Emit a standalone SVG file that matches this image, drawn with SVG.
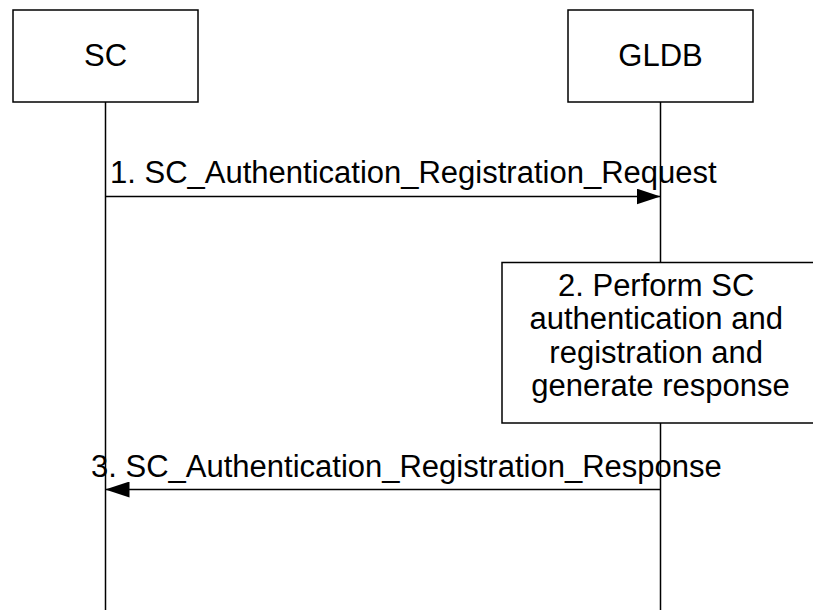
<svg xmlns="http://www.w3.org/2000/svg" width="813" height="610" viewBox="0 0 813 610">
<style>
.box{fill:#fff;stroke:#000;stroke-width:1.5}
.life{stroke:#000;stroke-width:1.5;fill:none}
.msg{stroke:#000;stroke-width:1.5;fill:none}
text{font-family:"Liberation Sans",Arial,sans-serif;font-size:31px;fill:#000}
</style>
<defs>
<marker id="ah" markerWidth="24" markerHeight="16" refX="24" refY="8" orient="auto" markerUnits="userSpaceOnUse">
<path d="M0,0 L24,8 L0,16 Z" fill="#000"/>
</marker>
</defs>
<g id="lifelines">
<line class="life" x1="105.5" y1="102" x2="105.5" y2="610"/>
<line class="life" x1="660.5" y1="102" x2="660.5" y2="610"/>
</g>
<g id="SC">
<rect class="box" x="13" y="10" width="185" height="92"/>
<text x="105.5" y="66" text-anchor="middle">SC</text>
</g>
<g id="GLDB">
<rect class="box" x="568" y="10" width="185" height="92"/>
<text x="660.5" y="66" text-anchor="middle">GLDB</text>
</g>
<g id="step2">
<rect class="box" x="502" y="262.5" width="318" height="160.5"/>
<text text-anchor="middle">
<tspan x="660.5" y="296">2. Perform SC</tspan>
<tspan x="660.5" y="329">authentication and</tspan>
<tspan x="660.5" y="363">registration and</tspan>
<tspan x="660.5" y="396">generate response</tspan>
</text>
</g>
<g id="connectors">
<line class="msg" x1="105.5" y1="196.5" x2="660.5" y2="196.5" marker-end="url(#ah)"/>
<line class="msg" x1="660.5" y1="489.5" x2="105.5" y2="489.5" marker-end="url(#ah)"/>
</g>
<g id="labels">
<text x="110" y="183">1. SC_Authentication_Registration_Request</text>
<text x="91" y="477">3. SC_Authentication_Registration_Response</text>
</g>
</svg>
